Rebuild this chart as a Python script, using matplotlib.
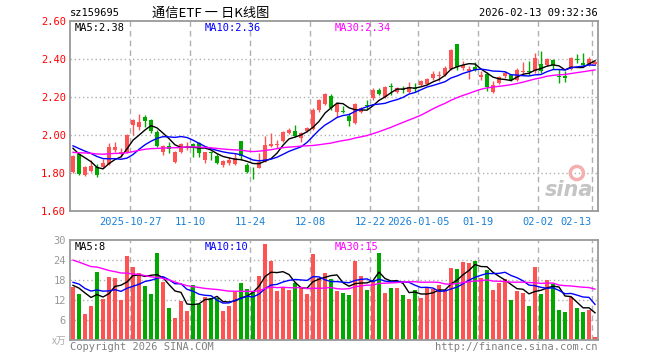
import matplotlib
matplotlib.use("Agg")
import matplotlib.pyplot as plt
import numpy as np
import pandas as pd

# daily candles, 2025-10-13 .. 2026-02-13 (88 trading days)
opens = [1.807, 1.900, 1.790, 1.810, 1.833, 1.830, 1.847, 1.921, 1.905, 1.912,
         2.053, 2.044, 2.096, 2.079, 2.017, 1.912, 1.942, 1.858, 1.912, 1.945,
         1.953, 1.956, 1.868, 1.912, 1.889, 1.842, 1.854, 1.847, 1.968, 1.842,
         1.812, 1.828, 1.860, 1.942, 1.948, 1.968, 2.012, 2.023, 1.986, 2.021,
         2.032, 2.132, 2.162, 2.205, 2.123, 2.125, 2.100, 2.065, 2.123, 2.160,
         2.193, 2.237, 2.202, 2.256, 2.226, 2.242, 2.228, 2.248, 2.262, 2.268,
         2.300, 2.310, 2.314, 2.345, 2.479, 2.353, 2.335, 2.356, 2.304, 2.321,
         2.226, 2.274, 2.309, 2.317, 2.291, 2.333, 2.337, 2.335, 2.374, 2.370,
         2.396, 2.310, 2.309, 2.349, 2.397, 2.379, 2.370, 2.374]
highs = [1.895, 1.904, 1.836, 1.868, 1.847, 1.872, 1.956, 1.963, 1.930, 2.004,
         2.083, 2.110, 2.105, 2.083, 2.026, 1.947, 1.965, 1.914, 1.960, 1.963,
         1.956, 1.962, 1.912, 1.917, 1.900, 1.870, 1.886, 1.904, 1.970, 1.851,
         1.833, 1.904, 1.995, 2.012, 1.974, 2.023, 2.035, 2.053, 2.017, 2.044,
         2.140, 2.190, 2.220, 2.214, 2.175, 2.153, 2.114, 2.170, 2.150, 2.184,
         2.246, 2.246, 2.258, 2.275, 2.254, 2.258, 2.280, 2.272, 2.291, 2.300,
         2.335, 2.335, 2.363, 2.454, 2.479, 2.388, 2.361, 2.384, 2.335, 2.330,
         2.283, 2.309, 2.335, 2.321, 2.353, 2.384, 2.388, 2.432, 2.444, 2.405,
         2.400, 2.349, 2.335, 2.412, 2.426, 2.432, 2.412, 2.391]
lows = [1.800, 1.789, 1.784, 1.805, 1.780, 1.825, 1.842, 1.912, 1.886, 1.907,
        2.000, 2.026, 2.044, 2.009, 1.935, 1.895, 1.907, 1.854, 1.907, 1.921,
        1.886, 1.886, 1.851, 1.868, 1.848, 1.830, 1.842, 1.842, 1.868, 1.798,
        1.768, 1.825, 1.856, 1.938, 1.930, 1.962, 2.004, 1.991, 1.962, 2.017,
        2.026, 2.120, 2.158, 2.130, 2.093, 2.114, 2.047, 2.060, 2.118, 2.135,
        2.184, 2.210, 2.195, 2.210, 2.219, 2.220, 2.221, 2.228, 2.256, 2.263,
        2.291, 2.283, 2.309, 2.340, 2.340, 2.340, 2.296, 2.335, 2.291, 2.230,
        2.221, 2.270, 2.300, 2.286, 2.283, 2.321, 2.314, 2.326, 2.326, 2.365,
        2.349, 2.274, 2.277, 2.344, 2.379, 2.361, 2.365, 2.370]
closes = [1.891, 1.797, 1.833, 1.837, 1.790, 1.851, 1.938, 1.938, 1.908, 2.000,
          2.079, 2.070, 2.075, 2.023, 1.940, 1.942, 1.925, 1.912, 1.953, 1.948,
          1.940, 1.905, 1.910, 1.904, 1.851, 1.865, 1.867, 1.877, 1.891, 1.807,
          1.808, 1.860, 1.947, 1.955, 1.952, 2.017, 2.026, 1.996, 2.009, 2.038,
          2.132, 2.184, 2.214, 2.144, 2.163, 2.120, 2.075, 2.163, 2.140, 2.155,
          2.237, 2.216, 2.254, 2.252, 2.249, 2.238, 2.251, 2.244, 2.286, 2.296,
          2.321, 2.314, 2.353, 2.449, 2.356, 2.370, 2.349, 2.344, 2.317, 2.251,
          2.262, 2.304, 2.326, 2.291, 2.340, 2.337, 2.333, 2.405, 2.335, 2.402,
          2.370, 2.307, 2.300, 2.405, 2.394, 2.370, 2.402, 2.384]
# volume in 10k lots
volumes = [16.0, 13.8, 7.8, 10.2, 20.4, 12.3, 18.9, 18.6, 12.0, 25.2,
           21.9, 20.0, 16.2, 13.8, 26.1, 17.4, 9.6, 6.6, 11.7, 8.7,
           16.5, 10.8, 12.9, 12.6, 12.6, 8.7, 10.2, 14.5, 17.1, 15.3,
           14.5, 19.3, 28.8, 23.8, 14.7, 15.9, 15.0, 17.2, 15.7, 13.8,
           25.8, 18.7, 20.0, 18.3, 14.8, 14.1, 13.5, 23.8, 19.3, 15.0,
           17.6, 26.2, 14.1, 15.6, 15.6, 13.5, 12.3, 15.0, 12.6, 15.6,
           15.3, 16.5, 15.0, 21.6, 21.3, 23.4, 23.1, 23.8, 18.6, 21.0,
           15.0, 17.1, 18.3, 12.0, 14.6, 14.1, 10.2, 21.9, 13.8, 18.0,
           16.8, 9.0, 8.4, 12.9, 9.6, 8.4, 9.0, 0.9]

# 29 days before the window, only used to warm up the moving averages
prior_closes = [1.86, 1.87, 1.88, 1.90, 1.89, 1.87, 1.88, 1.90, 1.91, 1.89,
                1.88, 1.90, 1.92, 1.91, 1.89, 1.88, 1.90, 1.91, 1.89, 1.90,
                1.94, 1.97, 1.96, 1.95, 1.96, 1.95, 1.93, 1.94, 1.94]
prior_volumes = [32, 28, 30, 25, 27, 35, 29, 24, 26, 31,
                 22, 28, 25, 30, 27, 23, 26, 29, 24, 25,
                 19, 21, 18, 17, 16, 18, 15, 17, 16]

tick_idx = [10, 20, 30, 40, 50, 58, 68, 78, 87]
tick_labels = ["2025-10-27", "11-10", "11-24", "12-08", "12-22",
               "2026-01-05", "01-19", "02-02", "02-13"]

RED = "#ff5252"
GREEN = "#00a800"
GRID = "#b0b0b0"
MONO = "DejaVu Sans Mono"
CJK = ["Noto Sans CJK SC", "DejaVu Sans"]

n = len(closes)
x = np.arange(n) + 0.5
o = np.array(opens); c = np.array(closes)
up = c >= o
cols = np.where(up, RED, GREEN)


def ma(prior, vals, k):
    s = pd.Series(list(prior) + list(vals)).rolling(k).mean()
    return s.values[len(prior):]


W, H = 660, 360
fig = plt.figure(figsize=(6.6, 3.6), dpi=100)


def box(x0, y0, x1, y1):
    return [x0 / W, 1 - y1 / H, (x1 - x0) / W, (y1 - y0) / H]


ax = fig.add_axes(box(70, 21, 598, 211))
axv = fig.add_axes(box(70, 240, 598, 340))

for a in (ax, axv):
    a.set_xlim(0, n)
    for g in tick_idx:
        a.axvline(g, color=GRID, lw=1, ls=(0, (4, 3)), zorder=0)
    for sp in a.spines.values():
        sp.set_color("#999999")
        sp.set_linewidth(1.3)

# price panel
ax.set_ylim(1.60, 2.60)
for yv in [1.8, 2.0, 2.2, 2.4]:
    ax.axhline(yv, color=GRID, lw=1, ls=(0, (1, 2)), zorder=0)
ax.vlines(x, lows, highs, color=cols, lw=1, zorder=2)
body = np.maximum(np.abs(c - o), 0.004)
ax.bar(x, body, bottom=np.minimum(o, c), width=0.78, color=cols, zorder=3)
ax.plot(x, ma(prior_closes, closes, 5), color="black", lw=1, zorder=4)
ax.plot(x, ma(prior_closes, closes, 10), color="#0000ff", lw=1, zorder=4)
ax.plot(x, ma(prior_closes, closes, 30), color="#ff00ff", lw=1, zorder=4)

ax.set_yticks([1.6, 1.8, 2.0, 2.2, 2.4, 2.6])
ax.set_yticklabels(["%.2f" % v for v in [1.6, 1.8, 2.0, 2.2, 2.4, 2.6]],
                   family=MONO, fontsize=7.5, color="red")
ax.set_xticks(tick_idx)
ax.set_xticklabels(tick_labels, family=MONO, fontsize=7.5, color="#1a80d8")
ax.get_xticklabels()[-1].set_ha("right")
ax.tick_params(length=0, pad=3)
ax.tick_params(axis="x", pad=4)

ax.text(5 / 528, 0.965, "MA5:2.38", transform=ax.transAxes, family=MONO,
        fontsize=7.5, color="black", va="center")
ax.text(135 / 528, 0.965, "MA10:2.36", transform=ax.transAxes, family=MONO,
        fontsize=7.5, color="#0000ff", va="center")
ax.text(265 / 528, 0.965, "MA30:2.34", transform=ax.transAxes, family=MONO,
        fontsize=7.5, color="#ff00ff", va="center")

# sina watermark
ax.text(0.945, 0.11, "sina", transform=ax.transAxes, fontsize=15,
        fontstyle="italic", fontweight="bold", color="#c4c4c4",
        ha="center", va="center", family="DejaVu Sans")
ax.scatter([0.96], [0.2], s=90, transform=ax.transAxes, facecolor="none",
           edgecolor="#f4b0b0", lw=2.5, zorder=1)

# volume panel
axv.set_ylim(0, 30)
for yv in [6, 12, 18, 24]:
    axv.axhline(yv, color=GRID, lw=1, ls=(0, (1, 2)), zorder=0)
axv.bar(x, volumes, width=0.82, color=cols, zorder=2)
axv.plot(x, ma(prior_volumes, volumes, 5), color="black", lw=1, zorder=3)
axv.plot(x, ma(prior_volumes, volumes, 10), color="#0000ff", lw=1, zorder=3)
axv.plot(x, ma(prior_volumes, volumes, 30), color="#ff00ff", lw=1, zorder=3)
axv.set_xticks([])
axv.set_yticks([6, 12, 18, 24, 30])
axv.set_yticklabels(["6", "12", "18", "24", "30"], family=MONO,
                    fontsize=7.5, color="#999999")
axv.tick_params(length=0, pad=3)

axv.text(5 / 528, 0.93, "MA5:8", transform=axv.transAxes, family=MONO,
         fontsize=7.5, color="black", va="center")
axv.text(135 / 528, 0.93, "MA10:10", transform=axv.transAxes, family=MONO,
         fontsize=7.5, color="#0000ff", va="center")
axv.text(265 / 528, 0.93, "MA30:15", transform=axv.transAxes, family=MONO,
         fontsize=7.5, color="#ff00ff", va="center")

# header and footer
fig.text(70 / W, 1 - 13 / H, "sz159695", family=MONO, fontsize=7.5,
         color="black", va="center")
fig.text(211 / W, 1 - 13 / H, "通信ETF 一 日K线图", family=CJK, fontsize=9.5,
         color="black", va="center", ha="center")
fig.text(598 / W, 1 - 13 / H, "2026-02-13 09:32:36", family=MONO,
         fontsize=7.5, color="black", va="center", ha="right")
fig.text(66 / W, 1 - 341 / H, "x万", family=CJK, fontsize=7,
         color="#aaaaaa", va="center", ha="right", fontstyle="italic")
fig.text(70 / W, 1 - 347 / H, "Copyright 2026 SINA.COM", family=MONO,
         fontsize=7.5, color="#808080", va="center")
fig.text(598 / W, 1 - 347 / H, "http://finance.sina.com.cn", family=MONO,
         fontsize=7.5, color="#808080", va="center", ha="right")

fig.savefig("out.png", dpi=100, facecolor="white")
